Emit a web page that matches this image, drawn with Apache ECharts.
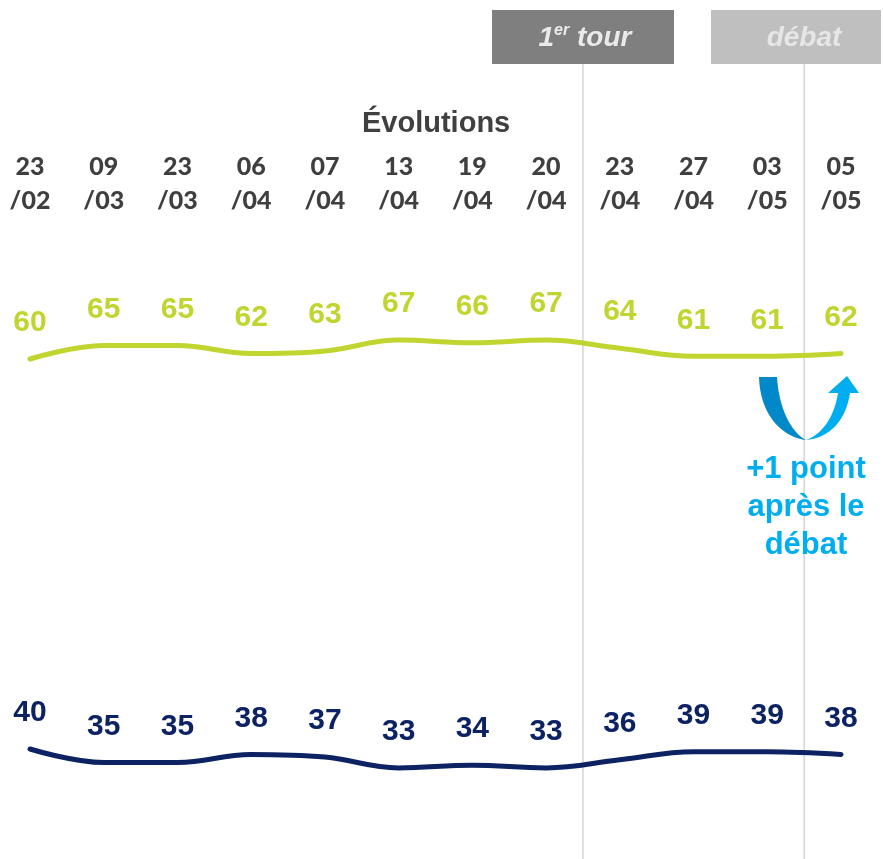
<!DOCTYPE html>
<html>
<head>
<meta charset="utf-8">
<script src="https://cdn.jsdelivr.net/npm/echarts@6/dist/echarts.min.js"></script>
<style>
html, body { margin: 0; padding: 0; background: #fff; }
#chart { width: 883px; height: 859px; }
</style>
</head>
<body>
<div id="chart"></div>
<script>
// dates of the polls
const categories = ['23/02', '09/03', '23/03', '06/04', '07/04', '13/04', '19/04', '20/04', '23/04', '27/04', '03/05', '05/05'];
// green series (top) and navy series (bottom)
const greenValues = [60, 65, 65, 62, 63, 67, 66, 67, 64, 61, 61, 62];
const navyValues = [40, 35, 35, 38, 37, 33, 34, 33, 36, 39, 39, 38];

const green = '#C0D52F';
const navy = '#0C2262';
const labelFont = '"Liberation Sans", Arial, sans-serif';

const chart = echarts.init(document.getElementById('chart'));

function lineSeries(data, color, idx) {
    return {
        type: 'line',
        xAxisIndex: idx,
        yAxisIndex: idx,
        data: data,
        smooth: 0.4,
        showSymbol: true,
        symbol: 'circle',
        symbolSize: 0.1,
        itemStyle: { color: color },
        lineStyle: { color: color, width: 5, cap: 'round' },
        label: {
            show: true,
            position: 'top',
            distance: 21,
            color: color,
            fontSize: 30,
            fontWeight: 'bold',
            fontFamily: labelFont
        }
    };
}

const option = {
    backgroundColor: '#fff',
    animation: false,
    title: {
        text: 'Évolutions',
        left: 357,
        top: 104,
        textStyle: {
            color: '#404040',
            fontSize: 29,
            fontWeight: 'bold',
            fontFamily: labelFont
        }
    },
    grid: [
        { left: 30, right: 42, top: 332, height: 40.5 },
        { left: 30, right: 42, top: 735.5, height: 40.5 }
    ],
    xAxis: [{
        gridIndex: 0,
        type: 'category',
        position: 'top',
        boundaryGap: false,
        data: categories,
        axisLine: { show: false },
        axisTick: { show: false },
        axisLabel: {
            margin: 114,
            interval: 0,
            color: '#3F3F3F',
            fontSize: 25,
            fontWeight: 900,
            fontFamily: 'Lato, "Open Sans", sans-serif',
            lineHeight: 34,
            formatter: function (v) {
                const p = v.split('/');
                return p[0] + '\n/' + p[1];
            }
        },
        splitLine: { show: false }
    }, {
        gridIndex: 1,
        type: 'category',
        boundaryGap: false,
        data: categories,
        show: false
    }],
    yAxis: [
        { gridIndex: 0, type: 'value', min: 55, max: 70, show: false },
        { gridIndex: 1, type: 'value', min: 30, max: 45, show: false }
    ],
    series: [lineSeries(greenValues, green, 0), lineSeries(navyValues, navy, 1)]
};

chart.setOption(option);

// sample a cubic bezier into points (for the arrow polygons)
function bez(p0, p1, p2, p3, n) {
    const pts = [];
    for (let i = 0; i <= n; i++) {
        const t = i / n, u = 1 - t;
        pts.push([
            u * u * u * p0[0] + 3 * u * u * t * p1[0] + 3 * u * t * t * p2[0] + t * t * t * p3[0],
            u * u * u * p0[1] + 3 * u * u * t * p1[1] + 3 * u * t * t * p2[1] + t * t * t * p3[1]
        ]);
    }
    return pts;
}

const leftArm = [[759, 377], [777, 377]]
    .concat(bez([777, 377], [779, 410], [792, 433], [806, 440], 20))
    .concat(bez([806, 440], [782, 437], [760, 415], [759, 377], 20));
const rightArm = bez([806, 440], [822, 434], [834, 418], [838, 393], 20)
    .concat([[828, 393], [847, 376], [859, 393], [850, 393]])
    .concat(bez([850, 393], [846, 420], [830, 438], [806, 440], 20));

// event separators sit halfway between two poll dates
const x1 = (chart.convertToPixel({ xAxisIndex: 0 }, 7) + chart.convertToPixel({ xAxisIndex: 0 }, 8)) / 2;
const x2 = (chart.convertToPixel({ xAxisIndex: 0 }, 10) + chart.convertToPixel({ xAxisIndex: 0 }, 11)) / 2;

chart.setOption({
    graphic: [
        { type: 'line', shape: { x1: x1, y1: 64, x2: x1, y2: 859 }, style: { stroke: '#BFBFBF', lineWidth: 1 }, z: 0 },
        { type: 'line', shape: { x1: x2, y1: 64, x2: x2, y2: 859 }, style: { stroke: '#BFBFBF', lineWidth: 1 }, z: 0 },
        { type: 'rect', shape: { x: 492, y: 10, width: 182, height: 54 }, style: { fill: '#7F7F7F' } },
        {
            type: 'text', x: 585, y: 38,
            style: {
                text: '{a|1}{s|er}{a| tour}',
                align: 'center', verticalAlign: 'middle',
                rich: {
                    a: { fill: '#EAEAEA', fontSize: 28, fontWeight: 'bold', fontStyle: 'italic', fontFamily: labelFont },
                    s: { fill: '#EAEAEA', fontSize: 16, fontWeight: 'bold', fontStyle: 'italic', fontFamily: labelFont, verticalAlign: 'top', padding: [0, 0, 14, 0] }
                }
            }
        },
        { type: 'rect', shape: { x: 711, y: 10, width: 170, height: 54 }, style: { fill: '#BFBFBF' } },
        {
            type: 'text', x: 804, y: 38,
            style: {
                text: 'débat', align: 'center', verticalAlign: 'middle',
                fill: '#E6E6E6', fontSize: 28, fontWeight: 'bold', fontStyle: 'italic', fontFamily: labelFont
            }
        },
        { type: 'polygon', shape: { points: leftArm }, style: { fill: '#0088C8' } },
        { type: 'polygon', shape: { points: rightArm }, style: { fill: '#00AEEF' } },
        {
            type: 'text', x: 806, y: 507,
            style: {
                text: '+1 point\naprès le\ndébat', align: 'center', verticalAlign: 'middle',
                fill: '#00AEEF', fontSize: 31, fontWeight: 'bold', fontFamily: labelFont, lineHeight: 38
            }
        }
    ]
});

window.addEventListener('resize', function () {
    chart.resize();
});
</script>
</body>
</html>
